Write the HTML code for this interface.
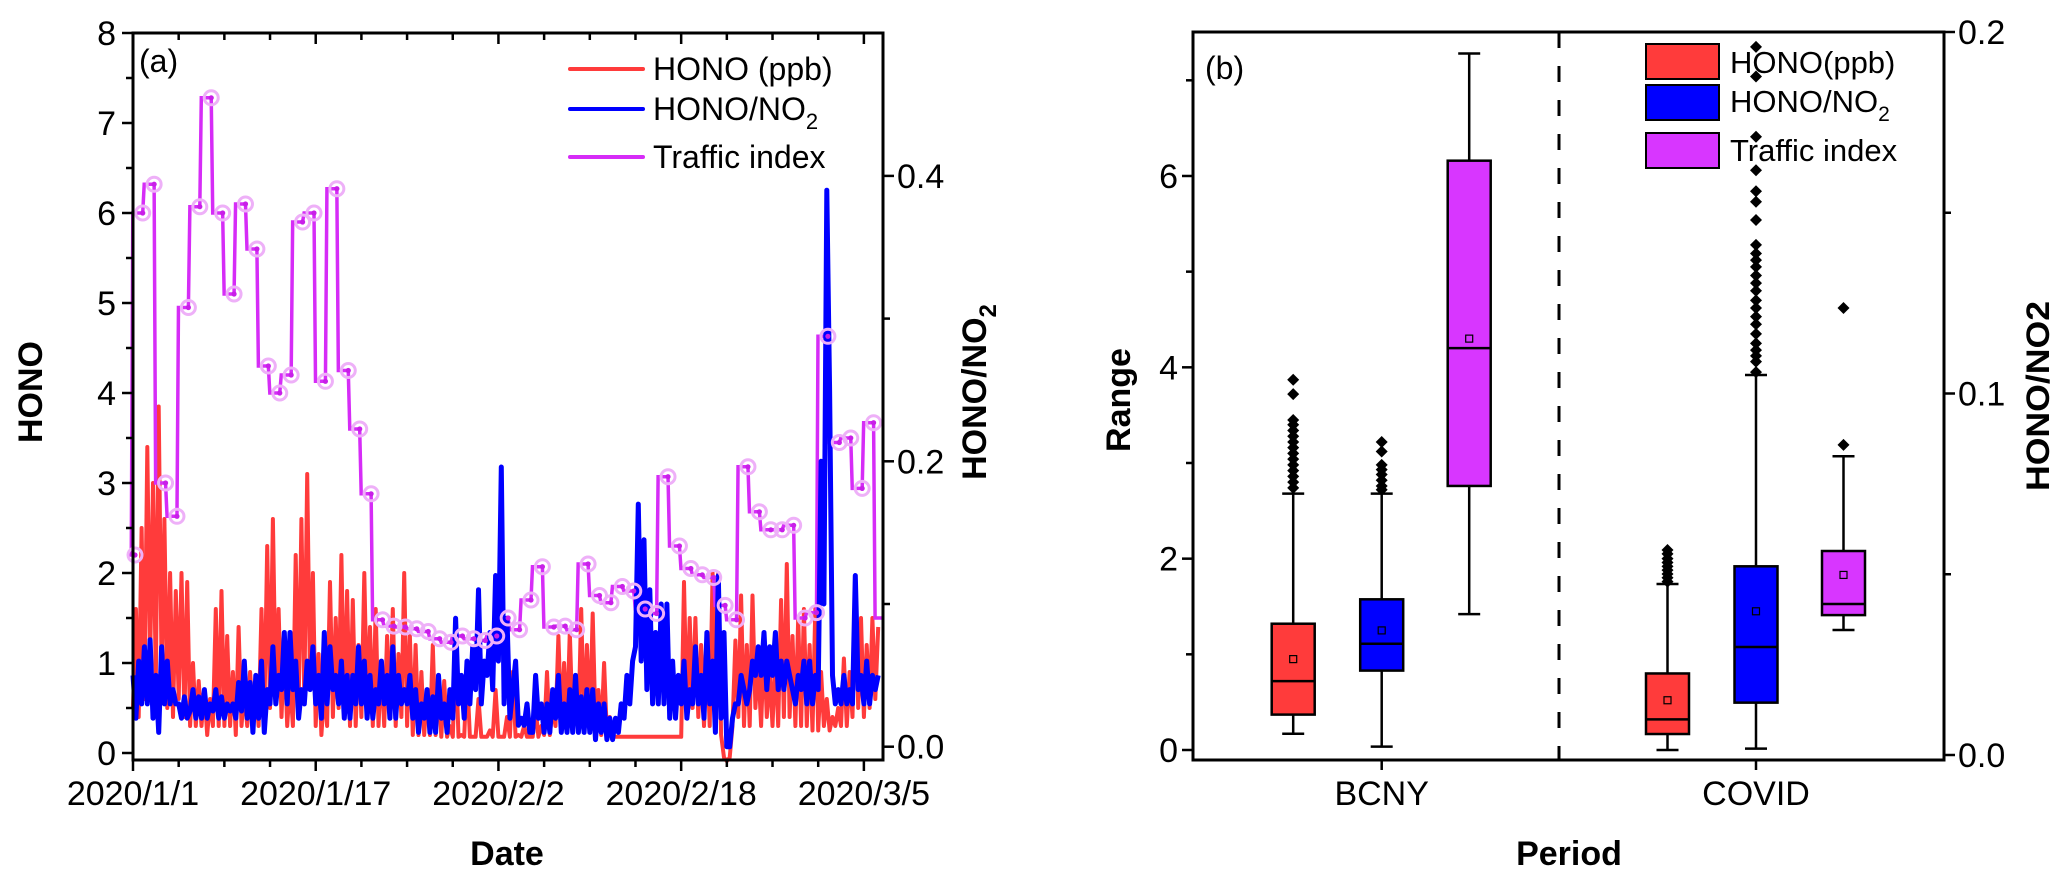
<!DOCTYPE html>
<html><head><meta charset="utf-8"><style>
html,body{margin:0;padding:0;background:#fff;}
svg{display:block;font-family:"Liberation Sans",Arial,sans-serif;}
</style></head><body>
<svg id="chart" width="2067" height="885" viewBox="0 0 2067 885" xmlns="http://www.w3.org/2000/svg">
<g id="panelA"></g>
<g id="panelB"></g>
</svg>
<script>
// ---------- Panel (a) data: 4 samples per day, starting 2020/1/1 ----------
const honoPpb = [
0.5,1.6,0.4,2.5, 0.6,3.4,1.0,3.0, 0.8,3.85,0.9,2.6, 0.5,2.0,0.4,1.8, 0.6,2.0,0.4,1.9,
0.3,1.0,0.3,0.8, 0.3,0.7,0.2,0.6, 0.3,1.6,0.3,1.8, 0.3,1.3,0.3,0.9, 0.2,1.4,0.3,0.7,
0.3,0.9,0.4,0.7, 0.3,1.6,0.4,2.3, 0.5,2.6,0.6,1.6, 0.4,1.2,0.3,0.8, 0.3,2.2,0.5,2.6,
0.6,3.1,0.8,2.0, 0.3,1.1,0.2,0.7, 0.3,1.9,0.4,1.5, 0.5,2.2,0.4,1.8, 0.3,1.7,0.3,1.2,
0.4,2.0,0.5,1.4, 0.3,1.6,0.3,1.0, 0.3,1.3,0.4,1.6, 0.3,1.1,0.4,2.0, 0.3,1.3,0.2,1.2,
0.2,0.9,0.2,0.7, 0.2,1.2,0.2,0.8, 0.18,0.8,0.18,0.3, 0.18,1.15,0.18,0.2, 0.18,0.9,0.18,0.18,
0.18,0.6,0.18,0.18, 0.18,0.25,0.18,0.7, 0.18,0.18,0.18,0.4, 0.18,0.9,0.18,0.2, 0.18,0.3,0.18,0.18,
0.18,0.5,0.18,0.3, 0.2,0.9,0.2,0.5, 0.3,1.3,0.3,1.0, 0.3,1.35,0.3,0.8, 0.3,1.6,0.3,1.2,
0.3,1.55,0.3,0.7, 0.2,1.0,0.2,0.4, 0.18,0.18,0.18,0.18, 0.18,0.18,0.18,0.18, 0.18,0.18,0.18,0.18,
0.18,0.18,0.18,0.18, 0.18,0.18,0.18,0.18, 0.18,0.18,0.18,0.18, 0.18,1.9,0.4,1.5, 0.5,1.5,0.4,1.2,
0.3,1.2,0.3,2.0, 0.5,2.0,0.2,-0.05, -0.09,-0.05,0.3,1.25, 0.4,1.75,0.3,1.2, 0.3,1.75,0.5,1.0,
0.3,1.2,0.4,0.9, 0.3,1.1,0.3,1.7, 0.4,2.1,0.4,1.3, 0.3,1.5,0.3,1.6, 0.3,1.2,0.25,1.6,
0.25,0.9,0.3,0.6, 0.25,0.4,0.3,0.5, 0.3,1.05,0.3,0.9, 0.4,1.9,0.5,1.5, 0.4,1.2,0.5,1.5,
0.6,1.4
];
const honoNo2 = [
0.05,0.02,0.06,0.03, 0.07,0.03,0.075,0.02, 0.05,0.01,0.07,0.03, 0.06,0.03,0.04,0.03, 0.03,0.02,0.035,0.02,
0.025,0.04,0.02,0.035, 0.02,0.04,0.02,0.03, 0.025,0.04,0.02,0.035, 0.02,0.03,0.025,0.03, 0.02,0.045,0.025,0.06,
0.02,0.045,0.01,0.05, 0.02,0.06,0.01,0.04, 0.03,0.07,0.03,0.05, 0.04,0.08,0.03,0.08, 0.04,0.06,0.02,0.04,
0.03,0.06,0.04,0.07, 0.03,0.05,0.02,0.08, 0.03,0.07,0.04,0.05, 0.03,0.06,0.02,0.05, 0.02,0.05,0.03,0.07,
0.03,0.06,0.02,0.05, 0.02,0.04,0.03,0.06, 0.03,0.05,0.02,0.07, 0.02,0.05,0.03,0.04, 0.03,0.05,0.02,0.04,
0.01,0.03,0.02,0.04, 0.01,0.035,0.01,0.05, 0.02,0.03,0.01,0.04, 0.02,0.09,0.03,0.05, 0.02,0.06,0.03,0.07,
0.04,0.11,0.03,0.06, 0.05,0.08,0.04,0.12, 0.06,0.196,0.03,0.09, 0.02,0.04,0.06,0.015, 0.02,0.015,0.03,0.01,
0.01,0.05,0.02,0.03, 0.01,0.03,0.01,0.04, 0.02,0.05,0.01,0.03, 0.01,0.04,0.01,0.05, 0.01,0.035,0.01,0.04,
0.01,0.04,0.005,0.03, 0.01,0.03,0.005,0.02, 0.005,0.02,0.01,0.03, 0.02,0.05,0.03,0.06, 0.07,0.17,0.06,0.145,
0.04,0.11,0.03,0.08, 0.03,0.10,0.03,0.10, 0.02,0.06,0.02,0.05, 0.03,0.06,0.02,0.04, 0.03,0.07,0.03,0.05,
0.02,0.08,0.03,0.06, 0.01,0.12,0.02,0.08, 0.0,0.0,0.02,0.03, 0.03,0.05,0.04,0.03, 0.04,0.06,0.05,0.07,
0.05,0.08,0.04,0.07, 0.05,0.08,0.04,0.06, 0.04,0.06,0.05,0.04, 0.03,0.05,0.04,0.06, 0.03,0.06,0.03,0.05,
0.04,0.20,0.10,0.39, 0.25,0.05,0.03,0.04, 0.03,0.05,0.03,0.04, 0.03,0.12,0.04,0.05, 0.03,0.06,0.03,0.05,
0.04,0.05
];
// daily traffic index, first entry is the value at the start of the record (day -1)
const trafficIndex = [2.2,6.0,6.32,3.0,2.63,4.95,6.07,7.28,6.0,5.1,6.1,5.6,4.3,4.0,4.2,5.9,6.0,4.13,6.27,4.25,
3.6,2.88,1.48,1.41,1.40,1.38,1.35,1.27,1.23,1.30,1.27,1.25,1.3,1.5,1.37,1.7,2.07,1.4,1.41,1.37,
2.1,1.75,1.67,1.85,1.80,1.6,1.55,3.07,2.3,2.05,1.98,1.95,1.64,1.48,3.18,2.68,2.48,2.48,2.53,1.5,
1.56,4.63,3.45,3.5,2.94,3.67,1.5];
const dateTickLabels = ["2020/1/1","2020/1/17","2020/2/2","2020/2/18","2020/3/5"];
const dateTickDays = [0,16,32,48,64];
const honoTicks = [0,1,2,3,4,5,6,7,8];
const ratioTicksA = ["0.0","0.2","0.4"];

// ---------- Panel (b) data ----------
const periods = ["BCNY","COVID"];
const seriesNames = ["HONO(ppb)","HONO/NO2","Traffic index"];
// [whiskerLow, q1, median, q3, whiskerHigh, mean] per period
const honoBox = [[0.17,0.37,0.72,1.32,2.68,0.95],[0.0,0.167,0.32,0.80,1.735,0.52]];
const ratioBox = [[0.035,0.83,1.11,1.575,2.68,1.25],[0.014,0.495,1.077,1.92,3.92,1.45]];
const trafficBox = [[1.42,2.76,4.2,6.16,7.28,4.30],[1.254,1.41,1.526,2.08,3.07,1.83]];
const honoOutliers = [[2.74,2.8,2.86,2.92,2.98,3.04,3.1,3.16,3.22,3.28,3.34,3.4,3.45,3.72,3.87],[1.76,1.8,1.84,1.88,1.92,1.96,2.0,2.05,2.09]];
const ratioOutliers = [[2.72,2.76,2.82,2.88,2.93,2.98,3.12,3.22],[3.95,4.06,4.12,4.18,4.25,4.35,4.45,4.53,4.62,4.7,4.8,4.88,4.96,5.05,5.12,5.19,5.28,5.54,5.73,5.84,6.06,6.41,7.04,7.35]];
const trafficOutliers = [[],[3.19,4.62]];
const rangeTicks = [0,2,4,6];
const ratioTicksB = ["0.0","0.1","0.2"];

const NS="http://www.w3.org/2000/svg";
function mk(parent,tag,attrs,text){const e=document.createElementNS(NS,tag);for(const k in attrs)e.setAttribute(k,attrs[k]);if(text!==undefined)e.textContent=text;parent.appendChild(e);return e;}

// ================= Panel A =================
const A=document.getElementById('panelA');
const xA=d=>133+d*11.42, yA=v=>753-v*90, yAR=r=>746.7-r*1427;
const AL=133,AR=883,AT=33,AB=760;
let pts=honoPpb.map((v,i)=>xA(i/4).toFixed(1)+","+yA(v).toFixed(1)).join(" ");
let e=mk(A,'polyline',{points:pts,fill:'none',stroke:'#ff3b3b','stroke-width':4,'stroke-linejoin':'round'});


let dTr="";
trafficIndex.forEach((v,i)=>{const x=xA(i-1+0.85);const y=yA(v);
 if(i===0){dTr+="M"+AL+","+y+" L"+x+","+y;} else {const xp=xA(i-2+0.85)+1.5;dTr+=" L"+xp+","+y+" L"+Math.min(x,AR-1)+","+y;}});
e=mk(A,'path',{d:dTr,fill:'none',stroke:'#d62cf7','stroke-width':3.5});


pts=honoNo2.map((v,i)=>xA(i/4).toFixed(1)+","+yAR(v).toFixed(1)).join(" ");
e=mk(A,'polyline',{points:pts,fill:'none',stroke:'#0000ff','stroke-width':5,'stroke-linejoin':'round'});


trafficIndex.forEach((v,i)=>{const x=Math.max(AL+2,xA(i-1+0.85));if(x>AR)return;const y=yA(v);
 const g=mk(A,'g',{});
 
 
 mk(g,'circle',{cx:x,cy:y,r:7,fill:'none',stroke:'#eeb0f8','stroke-width':3});
 mk(g,'circle',{cx:x,cy:y,r:2.6,fill:'#c81fe8'});});
e=mk(A,'rect',{x:AL,y:AT,width:AR-AL,height:AB-AT,fill:'none',stroke:'#000','stroke-width':3});


for(let d=0;d<=64;d+=4){const x=xA(d);const maj=dateTickDays.includes(d);
 mk(A,'line',{x1:x,x2:x,y1:AB,y2:AB+(maj?11:7),stroke:'#000','stroke-width':2.5});
 mk(A,'line',{x1:x,x2:x,y1:AT,y2:AT+(maj?11:7),stroke:'#000','stroke-width':2.5});}
dateTickDays.forEach((d,i)=>{e=mk(A,'text',{x:xA(d),y:805,'font-size':34,'text-anchor':'middle'},dateTickLabels[i]);
 
 });
for(let v=0;v<=8;v+=0.5){const y=yA(v);const maj=Number.isInteger(v);
 mk(A,'line',{x1:AL,x2:AL-(maj?11:7),y1:y,y2:y,stroke:'#000','stroke-width':2.5});}
honoTicks.forEach(v=>{e=mk(A,'text',{x:116,y:yA(v)+12,'font-size':34,'text-anchor':'end'},String(v));
 
 });
for(let k=0;k<=4;k++){const r=k*0.1;const y=yAR(r);const maj=k%2===0;
 mk(A,'line',{x1:AR,x2:AR+(maj?11:7),y1:y,y2:y,stroke:'#000','stroke-width':2.5});}
ratioTicksA.forEach(t=>{e=mk(A,'text',{x:897,y:yAR(parseFloat(t))+12,'font-size':34},t);
 
 });
e=mk(A,'text',{x:0,y:0,'font-size':34,'font-weight':'bold','text-anchor':'middle',transform:'translate(42,392) rotate(-90)'},'HONO');


e=mk(A,'text',{x:0,y:0,'font-size':34,'font-weight':'bold','text-anchor':'middle',transform:'translate(986,392) rotate(-90)'});


e.innerHTML='HONO/NO<tspan font-size="24" dy="10">2</tspan>';
e=mk(A,'text',{x:507,y:865,'font-size':34,'font-weight':'bold','text-anchor':'middle'},'Date');


e=mk(A,'text',{x:139,y:72,'font-size':32},'(a)');


const legA=[['#ff3b3b','HONO (ppb)',69,80],['#0000ff','HONO/NO',109,120],['#d62cf7','Traffic index',157,168]];
legA.forEach((l,i)=>{const g=mk(A,'g',{});
 
 
 mk(g,'line',{x1:570,x2:643,y1:l[2],y2:l[2],stroke:l[0],'stroke-width':4,'stroke-linecap':'round'});
 const t=mk(g,'text',{x:653,y:l[3],'font-size':32},l[1]);
 if(i===1){mk(t,'tspan',{'font-size':22,dy:9},'2');}});

// ================= Panel B =================
const B=document.getElementById('panelB');
const BL=1193,BR=1944,BT=32,BB=760;
const yB=v=>750-v*95.67, yBR=r=>755-r*3615;
const xCat=c=>1381.7+c*374.3;
const offs=[-88.5,0,87.5], fills=['#ff3b3b','#0000ff','#d836ff'];
const boxes=[honoBox,ratioBox,trafficBox], outs=[honoOutliers,ratioOutliers,trafficOutliers];
e=mk(B,'line',{x1:1559,x2:1559,y1:BT,y2:BB,stroke:'#000','stroke-width':3,'stroke-dasharray':'16,18'});


periods.forEach((p,c)=>{boxes.forEach((bx,s)=>{const b=bx[c];const cx=xCat(c)+offs[s];const hw=21.5;
 const g=mk(B,'g',{});
 
 
 mk(g,'line',{x1:cx,x2:cx,y1:yB(b[0]),y2:yB(b[4]),stroke:'#000','stroke-width':2.5});
 mk(g,'line',{x1:cx-11,x2:cx+11,y1:yB(b[0]),y2:yB(b[0]),stroke:'#000','stroke-width':2.5});
 mk(g,'line',{x1:cx-11,x2:cx+11,y1:yB(b[4]),y2:yB(b[4]),stroke:'#000','stroke-width':2.5});
 mk(g,'rect',{x:cx-hw,y:yB(b[3]),width:2*hw,height:yB(b[1])-yB(b[3]),fill:fills[s],stroke:'#000','stroke-width':2.5});
 mk(g,'line',{x1:cx-hw,x2:cx+hw,y1:yB(b[2]),y2:yB(b[2]),stroke:'#000','stroke-width':2.5});
 mk(g,'rect',{x:cx-3.5,y:yB(b[5])-3.5,width:7,height:7,fill:'none',stroke:'#000','stroke-width':1.2});
 outs[s][c].forEach(v=>{const y=yB(v);const o=mk(g,'path',{d:`M${cx},${y-6} L${cx+6},${y} L${cx},${y+6} L${cx-6},${y} Z`,fill:'#000'});
  
  });
});});
e=mk(B,'rect',{x:BL,y:BT,width:BR-BL,height:BB-BT,fill:'none',stroke:'#000','stroke-width':3});


for(let v=0;v<=7;v+=1){const y=yB(v);const maj=v%2===0;
 mk(B,'line',{x1:BL,x2:BL-(maj?11:7),y1:y,y2:y,stroke:'#000','stroke-width':2.5});}
rangeTicks.forEach(v=>{e=mk(B,'text',{x:1178,y:yB(v)+12,'font-size':34,'text-anchor':'end'},String(v));
 
 });
for(let k=0;k<=4;k++){const r=k*0.05;const y=yBR(r);const maj=k%2===0;
 mk(B,'line',{x1:BR,x2:BR+(maj?11:7),y1:y,y2:y,stroke:'#000','stroke-width':2.5});}
ratioTicksB.forEach(t=>{e=mk(B,'text',{x:1958,y:yBR(parseFloat(t))+12,'font-size':34},t);
 
 });
periods.forEach((p,c)=>{mk(B,'line',{x1:xCat(c),x2:xCat(c),y1:BB,y2:BB+10,stroke:'#000','stroke-width':2.5});
 e=mk(B,'text',{x:xCat(c),y:805,'font-size':34,'text-anchor':'middle'},p);
 
 });
mk(B,'line',{x1:1559,x2:1559,y1:BT,y2:BT+8,stroke:'#000','stroke-width':2.5});
e=mk(B,'text',{x:0,y:0,'font-size':34,'font-weight':'bold','text-anchor':'middle',transform:'translate(1130,400) rotate(-90)'},'Range');


e=mk(B,'text',{x:0,y:0,'font-size':32,'font-weight':'bold','text-anchor':'middle',textLength:190,lengthAdjust:'spacingAndGlyphs',transform:'translate(2049,396) rotate(-90)'},'HONO/NO2');


e=mk(B,'text',{x:1569,y:865,'font-size':34,'font-weight':'bold','text-anchor':'middle'},'Period');


e=mk(B,'text',{x:1205,y:79,'font-size':32},'(b)');


const legRows=[[44,73],[85,112],[133,161]];
seriesNames.forEach((n,i)=>{const g=mk(B,'g',{});
 
 
 mk(g,'rect',{x:1646,y:legRows[i][0],width:73,height:35,fill:fills[i],stroke:'#000','stroke-width':2});
 const t=mk(g,'text',{x:1730,y:legRows[i][1],'font-size':31},i===1?'HONO/NO':n);
 if(i===1){mk(t,'tspan',{'font-size':21,dy:9},'2');}});
</script>
</body></html>
